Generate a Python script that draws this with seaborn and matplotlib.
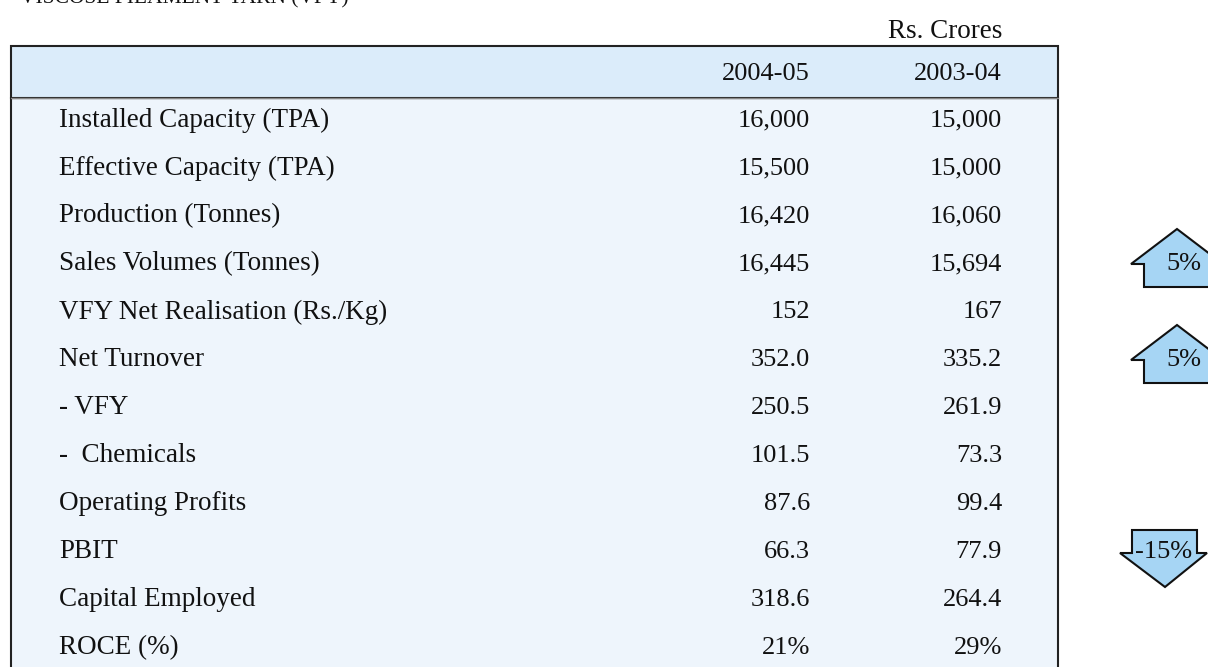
import matplotlib
matplotlib.use("Agg")
import matplotlib.pyplot as plt
from matplotlib.patches import Rectangle, Polygon
import seaborn as sns

# ---- data ----
title = "VISCOSE FILAMENT YARN (VFY)"
unit_note = "Rs. Crores"
years = ["2004-05", "2003-04"]
row_labels = [
    "Installed Capacity (TPA)",
    "Effective Capacity (TPA)",
    "Production (Tonnes)",
    "Sales Volumes (Tonnes)",
    "VFY Net Realisation (Rs./Kg)",
    "Net Turnover",
    "- VFY",
    "-  Chemicals",
    "Operating Profits",
    "PBIT",
    "Capital Employed",
    "ROCE (%)",
]
values_2004_05 = ["16,000", "15,500", "16,420", "16,445", "152", "352.0",
                  "250.5", "101.5", "87.6", "66.3", "318.6", "21%"]
values_2003_04 = ["15,000", "15,000", "16,060", "15,694", "167", "335.2",
                  "261.9", "73.3", "99.4", "77.9", "264.4", "29%"]
change_rows = ["Sales Volumes (Tonnes)", "Net Turnover", "PBIT"]
change_text = ["5%", "5%", "-15%"]
change_dir = ["up", "up", "down"]

# ---- style ----
sns.set_theme(style="white")
plt.rcParams["font.family"] = ["Liberation Serif", "DejaVu Serif"]

W, H = 1208, 667
fig = plt.figure(figsize=(W / 100, H / 100), dpi=100)
ax = fig.add_axes([0, 0, 1, 1])
ax.set_xlim(0, W)
ax.set_ylim(H, 0)
ax.axis("off")

header_fill = "#dbecfa"
body_fill = "#eef5fc"
arrow_fill = "#a6d5f4"
fs_lab = 19.5
fs_num = 19
txt_col = "#111111"

left, right = 11, 1058
top, head_bot = 46, 98
row_h = 48
first_center = 120

# body background
ax.add_patch(Rectangle((left, head_bot), right - left, H + 20 - head_bot,
                       facecolor=body_fill, edgecolor="#222222", lw=1.5, zorder=1))
# header
ax.add_patch(Rectangle((left, top), right - left, head_bot - top,
                       facecolor=header_fill, edgecolor="#222222", lw=1.5, zorder=2))
ax.plot([left, right], [head_bot, head_bot], color="#888888", lw=1.0, zorder=3)

# title (cut off at top, as in the source) and unit note
ax.text(20, 3, title, fontsize=15.5, ha="left", va="baseline", color=txt_col)
ax.text(1002, 31, unit_note, fontsize=fs_lab, ha="right", va="center", color=txt_col)

col_x = [810, 1002]
for x, yr in zip(col_x, years):
    ax.text(x, 74, yr, fontsize=fs_num, ha="right", va="center", color=txt_col)

for i, lab in enumerate(row_labels):
    y = first_center + i * row_h
    ax.text(59, y, lab, fontsize=fs_lab, ha="left", va="center", color=txt_col)
    ax.text(col_x[0], y, values_2004_05[i], fontsize=fs_num, ha="right", va="center", color=txt_col)
    ax.text(col_x[1], y, values_2003_04[i], fontsize=fs_num, ha="right", va="center", color=txt_col)

# change arrows
for lab, txt, d in zip(change_rows, change_text, change_dir):
    y = first_center + row_labels.index(lab) * row_h - 1
    if d == "up":
        cx = 1177
        pts = [(cx, y - 34), (cx + 46, y + 1), (cx + 33, y + 1), (cx + 33, y + 24),
               (cx - 33, y + 24), (cx - 33, y + 1), (cx - 46, y + 1)]
        tx, ty = 1184, y + 1
    else:
        cx = 1165
        pts = [(cx - 33, y - 21), (cx + 32, y - 21), (cx + 32, y + 2), (cx + 42, y + 2),
               (cx, y + 36), (cx - 45, y + 2), (cx - 33, y + 2)]
        tx, ty = 1164, y + 1
    ax.add_patch(Polygon(pts, closed=True, facecolor=arrow_fill, edgecolor="#111111",
                         lw=1.5, zorder=4, joinstyle="miter"))
    ax.text(tx, ty, txt, fontsize=19, ha="center", va="center", color=txt_col, zorder=5)

fig.savefig("out.png", dpi=100)
